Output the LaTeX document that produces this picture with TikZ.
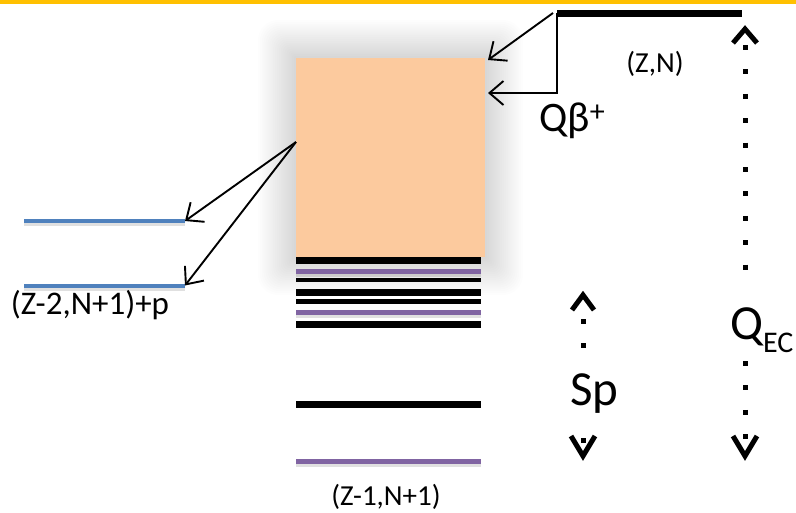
\documentclass[tikz,border=0pt]{standalone}
\usepackage{fontspec}
\setmainfont{Carlito}
\usetikzlibrary{arrows.meta}
\definecolor{boxfill}{RGB}{252,202,158}
\definecolor{barcol}{RGB}{255,192,0}
\definecolor{lvpurple}{RGB}{128,100,162}
\definecolor{lvblue}{RGB}{79,129,189}
\tikzset{
  lvblack/.style={line width=7pt,black},
  lvthin/.style={line width=4.5pt,black},
  lvpur/.style={line width=5pt,lvpurple},
  lvblu/.style={line width=4pt,lvblue},
  lvshadow/.style={line width=5pt,black,opacity=0.12},
  arr/.style={line width=1.9pt,-{Straight Barb[length=14pt,width=24pt,line width=1.9pt]}},
  scaledots/.style={line width=5pt,dash pattern=on 5pt off 19.4pt},
  chev/.style={line width=5pt,miter limit=10},
  lbl/.style={inner sep=0pt,font=\fontsize{29}{29}\selectfont},
  big/.style={inner sep=0pt,font=\fontsize{49}{49}\selectfont},
}
\begin{document}
\begin{tikzpicture}[x=1pt,y=-1pt]
\useasboundingbox (0,0) rectangle (796,512);
\fill[white] (0,0) rectangle (796,512);
\fill[barcol] (0,0) rectangle (796,3.5);
% glow around the box
\foreach \i in {1,...,20}{
  \fill[black,opacity=0.009,rounded corners=\i pt] ({296-1.9*\i},{58-1.9*\i}) rectangle ({485+1.9*\i},{257+1.9*\i});
}
% box
\fill[boxfill] (296,58) rectangle (485,257);
\coordinate (boxL) at (296,142);
\coordinate (boxTR) at (488,60);
\coordinate (boxR) at (488,93);
% levels of (Z-1,N+1)
\coordinate (l1a) at (296,260.5); \coordinate (l1b) at (481,260.5);
\coordinate (l2a) at (296,271.5); \coordinate (l2b) at (481,271.5);
\coordinate (l3a) at (296,280);   \coordinate (l3b) at (481,280);
\coordinate (l4a) at (296,292.5); \coordinate (l4b) at (481,292.5);
\coordinate (l5a) at (296,301.5); \coordinate (l5b) at (481,301.5);
\coordinate (l6a) at (296,312.5); \coordinate (l6b) at (481,312.5);
\coordinate (l7a) at (296,324.5); \coordinate (l7b) at (481,324.5);
\coordinate (l8a) at (296,404.5); \coordinate (l8b) at (481,404.5);
\coordinate (l9a) at (296,461.5); \coordinate (l9b) at (481,461.5);
\draw[lvshadow] ([yshift=-3pt]l2a) -- ([yshift=-3pt]l2b);
\draw[lvshadow] ([yshift=-3pt]l6a) -- ([yshift=-3pt]l6b);
\draw[lvshadow] ([yshift=-3pt]l9a) -- ([yshift=-3pt]l9b);
\draw[lvblack] (l1a) -- (l1b);
\draw[lvpur] (l2a) -- (l2b);
\draw[lvthin] (l3a) -- (l3b);
\draw[lvblack] (l4a) -- (l4b);
\draw[lvthin] (l5a) -- (l5b);
\draw[lvpur] (l6a) -- (l6b);
\draw[lvblack] (l7a) -- (l7b);
\draw[lvblack] (l8a) -- (l8b);
\draw[lvpur] (l9a) -- (l9b);
% (Z-2,N+1)+p levels
\coordinate (b1a) at (24,221); \coordinate (b1b) at (185,221);
\coordinate (b2a) at (24,285.5); \coordinate (b2b) at (185,285.5);
\draw[lvshadow,line width=4pt] ([yshift=-3pt]b1a) -- ([yshift=-3pt]b1b);
\draw[lvshadow,line width=4pt] ([yshift=-3pt]b2a) -- ([yshift=-3pt]b2b);
\draw[lvblu] (b1a) -- (b1b);
\draw[lvblu] (b2a) -- (b2b);
\draw[arr] (boxL) -- (b1b);
\draw[arr] (boxL) -- (b2b);
% parent level (Z,N)
\coordinate (znL) at (557,13);
\coordinate (znR) at (742,13);
\coordinate (dstart) at (553,13);
\draw[line width=7pt] (znL) -- (znR);
\draw[arr] (dstart) -- (boxTR);
\draw[arr] (znL) |- (boxR);
% Q_EC scale
\coordinate (qt) at (745,45);
\coordinate (qm1) at (745,270);
\coordinate (qm2) at (745,361);
\coordinate (qb) at (745,452);
\draw[scaledots] (qt) -- (qm1);
\draw[scaledots] (qm2) -- (qb);
\draw[chev] (733,43) -- (745,29) -- (757,43);
\draw[chev] (733,436) -- (745,456) -- (757,436);
% Sp scale
\coordinate (st) at (583,319);
\coordinate (sm1) at (583,350);
\coordinate (sm2) at (583,438);
\coordinate (sb) at (583,445);
\draw[scaledots,dash pattern=on 5pt off 19pt] (st) -- (sm1);
\draw[scaledots] (sm2) -- (sb);
\draw[chev] (572,310) -- (583,295) -- (594,310);
\draw[chev] (571,436) -- (583,456) -- (595,436);
% labels
\node[lbl] (tzn) at (655,64) {(Z,N)};
\node[lbl] (tz1) at (386,497) {(Z-1,N+1)};
\node[lbl,font=\fontsize{33}{33}\selectfont] (tz2) at (90,305) {(Z-2,N+1)+p};
\node[inner sep=0pt,anchor=base west,font=\fontsize{42}{42}\selectfont] (tqb) at (539,131) {Qβ\raisebox{10pt}{\fontsize{30}{30}\selectfont +}};
\node[big,anchor=base west] (tqec) at (730,339) {Q\raisebox{-13pt}{\fontsize{30}{30}\selectfont EC}};
\node[big,anchor=base west] (tsp) at (570,405) {Sp};
\end{tikzpicture}
\end{document}
